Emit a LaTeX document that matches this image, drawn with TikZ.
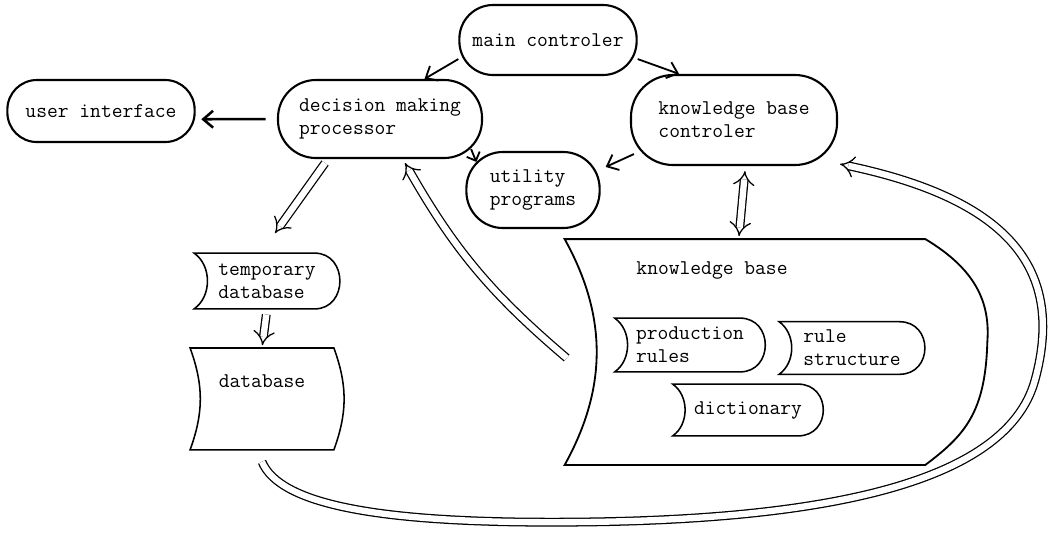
\documentclass[tikz,border=0pt]{standalone}
\usepackage{fontspec}
\usetikzlibrary{arrows.meta,calc}
\newcommand\tx{\fontsize{14.9}{16.5}\selectfont\ttfamily}
\newcommand\storeline[1]{\draw[storeline] (#1.north west) to[bend left=55] (#1.south west) -- ([xshift=-18pt]#1.south east) .. controls ([xshift=6pt]#1.south east) and ([xshift=6pt]#1.north east) .. ([xshift=-18pt]#1.north east) -- cycle;}

\begin{document}
\begin{tikzpicture}[x=0.025cm, y=-0.025cm,
    txt/.style={font=\tx, align=left, inner sep=2pt},
    blob/.style={txt, draw, line width=1.5pt, rounded corners=#1},
    store/.style={txt},
    storeline/.style={line width=1.1pt},
    flow/.style={line width=1.3pt, -{Straight Barb[length=7pt,width=12pt]}},
    pipe/.style={double, double distance=4.5pt, line width=0.9pt, -Implies}]
    %%%%% START %%%%%
    \useasboundingbox (0,0) rectangle (1050,535);

    % controllers and processors
    \node[blob=24pt, minimum width=4.43cm, minimum height=1.75cm] (main) at (548,40) {main controler};
    \node[blob=27pt, minimum width=5.1cm, minimum height=1.95cm] (dec) at (380,119) {decision making\\processor};
    \node[blob=21pt, minimum width=4.68cm, minimum height=1.55cm] (ui) at (101,111) {user interface};
    \node[blob=30pt, minimum width=5.15cm, minimum height=2.25cm] (kbc) at (734,120) {knowledge base\\controler};
    \node[blob=26pt, minimum width=3.33cm, minimum height=1.9cm] (util) at (533,190) {utility\\programs};

    % stores
    \node[store, minimum width=3.63cm, minimum height=1.38cm] (tmp) at (267,281) {temporary\\database};
    \node[store, minimum width=3.75cm, minimum height=1.33cm] (prod) at (690,345) {production\\rules};
    \node[store, minimum width=3.63cm, minimum height=1.3cm] (rule) at (852,348) {rule\\structure};
    \node[store, minimum width=3.75cm, minimum height=1.28cm] (dict) at (748,410) {dictionary};
    \foreach \n in {tmp,prod,rule,dict} \storeline{\n};

    \node[txt, anchor=north, minimum width=3.58cm, inner ysep=0pt, text height=0.98cm, text depth=1.55cm] (db) at (262,348) {database};
    \draw[storeline] (db.north west) to[bend left=20] (db.south west) -- (db.south east) to[bend right=20] (db.north east) -- cycle;

    \node[minimum width=9cm, minimum height=5.63cm] (kb) at (745,352) {};
    \draw[storeline, line width=1.3pt] (kb.north west) to[bend left=29] (kb.south west) -- (kb.south east)
        .. controls ([shift={(40,-30)}]kb.south east) and ([shift={(60,60)}]kb.east) .. ([shift={(62,-10)}]kb.east)
        .. controls ([shift={(65,-50)}]kb.east) and ([shift={(50,30)}]kb.north east) .. (kb.north east) -- cycle;
    \node[txt] (kbtitle) at (712,270) {knowledge base};

    % arrows
    \draw[flow] (main.192) -- (dec.42);
    \draw[flow] (main.348) -- (kbc.140);
    \draw[flow, line width=1.8pt, shorten <=8pt, shorten >=4pt] (dec.west) -- (ui.-5);
    \draw[flow, -{Straight Barb[length=5pt,width=10pt]}] ([shift={(-12,-10)}]dec.south east) -- ([shift={(11,11)}]util.north west);
    \draw[flow] ([shift={(4,-12)}]kbc.south west) -- ([shift={(5,16)}]util.north east);

    \draw[pipe, Implies-Implies] ([shift={(11,5)}]kbc.south) -- ([shift={(-6,-3)}]kb.north);
    \draw[pipe] ([shift={(-55,4)}]dec.south) -- ([shift={(8,-20)}]tmp.north);
    \draw[pipe, shorten <=4pt, shorten >=2pt] (tmp.south) -- (db.north);
    \draw[pipe] ([shift={(2,6)}]kb.west) to[bend left=10] ([shift={(25,4)}]dec.south);
    \draw[pipe] ([shift={(0,12)}]db.south) .. controls (280,505) and (380,520) .. (520,522)
        .. controls (800,525) and (1005,490) .. (1035,380)
        .. controls (1065,270) and (1010,200) .. ([shift={(2,-2)}]kbc.south east);
    %%%%% END %%%%%
\end{tikzpicture}
\end{document}
